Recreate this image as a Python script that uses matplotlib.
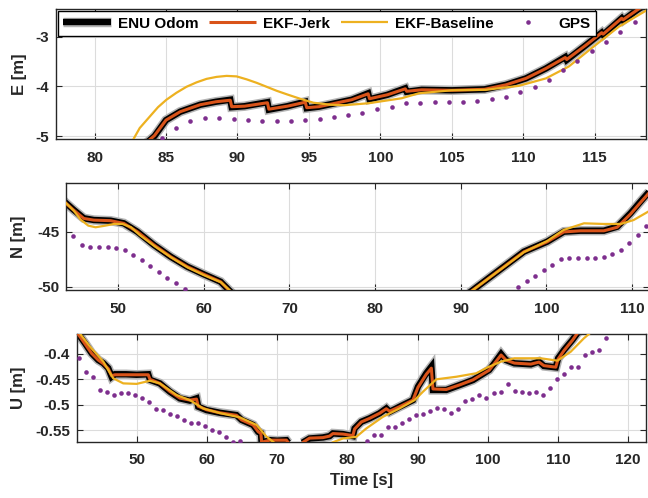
import numpy as np
import matplotlib.pyplot as plt
import matplotlib.patheffects as pe

nan = np.nan

# ---- East ----
e_odom_t = [83.6, 84.2, 85.0, 86.0, 87.4, 88.5, 89.5, 89.6, 90.5, 92.1, 92.2, 93.5, 94.75, 94.85,
            95.7, 98.0, 99.15, 99.25, 100.5, 101.75, 101.85, 102.9, 105.0, 107.3, 108.8, 110.2,
            111.6, 112.95, 113.05, 114.4, 115.5, 115.6, 116.9, 117.0, 118.0, 118.6]
e_odom = [-5.15, -5.0, -4.68, -4.51, -4.37, -4.31, -4.27, -4.42, -4.40, -4.32, -4.47, -4.40, -4.31, -4.44,
          -4.41, -4.27, -4.14, -4.26, -4.17, -4.04, -4.11, -4.07, -4.08, -4.06, -3.97, -3.84,
          -3.64, -3.41, -3.47, -3.17, -2.92, -2.96, -2.63, -2.67, -2.46, -2.35]
e_jerk = [-5.14, -4.99, -4.68, -4.51, -4.37, -4.31, -4.28, -4.41, -4.40, -4.33, -4.46, -4.40, -4.32, -4.43,
          -4.41, -4.27, -4.15, -4.25, -4.17, -4.05, -4.10, -4.07, -4.08, -4.06, -3.97, -3.84,
          -3.64, -3.42, -3.46, -3.17, -2.92, -2.95, -2.63, -2.66, -2.46, -2.35]
e_base_t = [82.69, 83.16, 83.86, 84.44, 85.03, 85.73, 86.43, 87.14, 87.84, 88.54, 89.24, 89.94, 90.65,
            91.35, 92.05, 92.75, 93.45, 94.39, 95.32, 96.49, 97.5, 99.2, 101.5, 102.7, 105.0, 107.4,
            109.7, 111.6, 113.2, 114.8, 116.7, 118.7]
e_base = [-5.08, -4.84, -4.61, -4.42, -4.27, -4.13, -4.01, -3.92, -3.85, -3.81, -3.79, -3.80, -3.86,
          -3.93, -4.01, -4.09, -4.16, -4.25, -4.33, -4.37, -4.38, -4.34, -4.24, -4.14, -4.08, -4.07,
          -3.99, -3.84, -3.60, -3.23, -2.80, -2.46]
e_gps_t = [84.7, 85.7, 86.7, 87.7, 88.7, 89.75, 90.75, 91.75, 92.75, 93.75, 94.75, 95.75, 96.75, 97.75,
           98.75, 99.8, 100.8, 101.8, 102.8, 103.8, 104.8, 105.8, 106.8, 107.8, 108.8, 109.8, 110.8,
           111.8, 112.8, 113.8, 114.8, 115.8, 116.8, 117.8]
e_gps = [-5.03, -4.83, -4.69, -4.64, -4.64, -4.66, -4.68, -4.69, -4.70, -4.70, -4.68, -4.65, -4.61, -4.58,
         -4.53, -4.46, -4.41, -4.34, -4.33, -4.31, -4.31, -4.31, -4.30, -4.26, -4.21, -4.12, -4.02,
         -3.87, -3.68, -3.50, -3.29, -3.10, -2.91, -2.70]

# ---- North ----
n_odom_t = [43.5, 43.84, 44.81, 45.98, 47.15, 49.1, 50.65, 52.22, 54.16, 56.11, 58.06, 60.0, 61.95, 63.3,
            nan, 91.0, 93.49, 97.38, 100.1, 102.05, 104.0, 106.72, 108.28, 109.83, 111.0, 112.2]
n_odom = [-42.1, -42.36, -43.03, -43.78, -43.94, -44.0, -44.24, -45.0, -46.21, -47.27, -48.18, -48.88, -49.55, -50.6,
          nan, -50.55, -49.09, -46.82, -45.91, -45.0, -44.91, -44.91, -44.55, -43.33, -42.27, -41.2]
n_jerk = [-42.1, -42.38, -43.05, -43.8, -43.95, -44.0, -44.25, -45.0, -46.2, -47.27, -48.18, -48.88, -49.55, -50.6,
          nan, -50.55, -49.1, -46.83, -45.92, -45.02, -44.92, -44.92, -44.6, -43.4, -42.35, -41.3]
n_base_t = [43.5, 43.84, 44.81, 45.6, 46.5, 47.35, 48.5, 49.5, 50.5, 51.5, 52.5, 54.3, 56.2, 58.1, 60.0, 62.0,
            63.4, nan, 91.0, 93.5, 97.4, 100.1, 102.0, 104.4, 106.7, 108.7, 110.2, 111.9, 112.2]
n_base = [-42.1, -42.36, -43.1, -43.9, -44.45, -44.6, -44.45, -44.3, -44.3, -44.6, -45.3, -46.35, -47.35, -48.25,
          -48.95, -49.6, -50.6, nan, -50.55, -49.1, -46.85, -45.85, -44.85, -44.24, -44.3, -44.3, -43.94,
          -43.18, -43.0]
n_gps_t = [44.75, 45.75, 46.75, 47.75, 48.75, 49.75, 50.75, 51.75, 52.75, 53.75, 54.75, 55.75, 56.75, 57.75,
           96.7, 97.7, 98.7, 99.7, 100.7, 101.7, 102.7, 103.7, 104.7, 105.7, 106.7, 107.7, 108.7, 109.7,
           110.7, 111.7]
n_gps = [-45.39, -46.21, -46.39, -46.39, -46.39, -46.48, -46.69, -47.09, -47.57, -48.12, -48.64, -49.18,
         -49.70, -50.18, -50.0, -49.45, -49.0, -48.48, -48.0, -47.51, -47.39, -47.39, -47.39, -47.39,
         -47.27, -47.03, -46.66, -46.06, -45.3, -44.45]

# ---- Up ----
u_odom_t = [41.5, 41.69, 42.65, 43.6, 44.54, 45.25, 45.96, 46.44, 46.91, 48.5, 50.0, 51.65, 51.9, 53.3,
            54.74, 56.16, 57.58, 58.53, 58.77, 59.96, 61.85, 64.22, 64.94, 66.59, 67.3, 67.7, 67.8, 68.96,
            70.0, 71.33, 71.6, nan, 73.6, 74.63, 76.52, 77.48, 77.95, 79.37, 80.8, 81.04, 82.0, 83.18,
            84.6, 85.56, 86.03, 87.45, 89.35, 90.06, 91.25, 91.97, 92.2, 94.1, 96.0, 97.9, 100.2, 100.94,
            101.9, 102.6, 103.8, 106.14, 107.3, 108.0, 109.69, 110.02, 110.87, 112.06, 112.77, 113.0]
u_odom = [-0.355, -0.3605, -0.379, -0.3986, -0.412, -0.418, -0.428, -0.445, -0.44, -0.44, -0.441, -0.44,
          -0.451, -0.458, -0.4745, -0.4876, -0.492, -0.4876, -0.504, -0.5107, -0.516, -0.5206, -0.530,
          -0.540, -0.5535, -0.556, -0.575, -0.570, -0.571, -0.570, -0.575, nan, -0.575, -0.5667, -0.5647,
          -0.562, -0.5567, -0.558, -0.562, -0.5469, -0.5337, -0.527, -0.517, -0.5074, -0.514, -0.504,
          -0.491, -0.4646, -0.438, -0.425, -0.471, -0.471, -0.4613, -0.4514, -0.4316, -0.4184, -0.400,
          -0.412, -0.4184, -0.4204, -0.415, -0.4237, -0.4263, -0.4085, -0.392, -0.3723, -0.359, -0.354]
u_jerk = [-0.355, -0.361, -0.380, -0.399, -0.412, -0.419, -0.429, -0.443, -0.441, -0.441, -0.441, -0.441,
          -0.450, -0.458, -0.474, -0.487, -0.491, -0.489, -0.503, -0.510, -0.516, -0.521, -0.530,
          -0.540, -0.553, -0.557, -0.574, -0.570, -0.570, -0.570, -0.575, nan, -0.575, -0.566, -0.565,
          -0.562, -0.557, -0.558, -0.561, -0.548, -0.534, -0.527, -0.517, -0.508, -0.513, -0.504,
          -0.491, -0.466, -0.440, -0.428, -0.469, -0.470, -0.461, -0.451, -0.432, -0.419, -0.402,
          -0.412, -0.418, -0.420, -0.416, -0.423, -0.426, -0.410, -0.393, -0.373, -0.359, -0.354]
u_base_t = [41.5, 43.36, 45.25, 46.67, 48.1, 50.0, 51.9, 53.3, 55.69, 57.58, 59.47, 61.85, 64.7, 67.07,
            68.49, 69.6, nan, 77.8, 79.37, 81.28, 82.71, 85.07, 87.45, 89.59, 90.77, 92.68, 95.53, 98.38,
            100.0, 101.9, 103.78, 107.56, 109.93, 111.82, 113.7, 114.8]
u_base = [-0.352, -0.3856, -0.415, -0.448, -0.458, -0.459, -0.4528, -0.458, -0.481, -0.491, -0.5074,
          -0.5166, -0.525, -0.540, -0.563, -0.575, nan, -0.575, -0.5667, -0.5634, -0.5469, -0.524,
          -0.5074, -0.491, -0.4745, -0.45, -0.4449, -0.438, -0.4263, -0.415, -0.4085, -0.4085, -0.4132,
          -0.3955, -0.369, -0.356]
u_gps_t = [41.8, 42.8, 43.8, 44.8, 45.8, 46.8, 47.8, 48.8, 49.8, 50.8, 51.8, 52.8, 53.8, 54.8, 55.8, 56.8,
           57.8, 58.8, 59.8, 60.75, 61.75, 62.75, 63.75, 64.75, 82.8, 83.75, 84.75, 85.75, 86.75, 87.75,
           88.75, 89.75, 90.75, 91.75, 92.75, 93.75, 94.75, 95.75, 96.75, 97.75, 98.75, 99.75, 100.9,
           101.9, 102.9, 103.9, 104.9, 105.9, 106.9, 107.9, 108.9, 109.9, 110.9, 111.9, 112.85, 113.85,
           114.85, 115.85, 116.8]
u_gps = [-0.4085, -0.435, -0.446, -0.471, -0.4757, -0.4817, -0.477, -0.4765, -0.4804, -0.4876, -0.4955,
         -0.5087, -0.510, -0.519, -0.5225, -0.530, -0.537, -0.537, -0.5417, -0.5496, -0.5535, -0.564,
         -0.5733, -0.5713, -0.572, -0.560, -0.560, -0.5449, -0.5449, -0.5357, -0.529, -0.5206, -0.519,
         -0.512, -0.506, -0.5087, -0.517, -0.5093, -0.4929, -0.4896, -0.4817, -0.4876, -0.4777, -0.4745,
         -0.46, -0.4731, -0.4751, -0.4765, -0.4745, -0.4817, -0.4678, -0.45, -0.4395, -0.4263, -0.4263,
         -0.402, -0.3955, -0.392, -0.3684]

plt.rcParams['font.family'] = ['Liberation Sans', 'DejaVu Sans']
plt.rcParams['font.weight'] = 'bold'
plt.rcParams['axes.labelweight'] = 'bold'

C_JERK = '#D95319'
C_BASE = '#EDB120'
C_GPS = '#7E2F8E'
AX_COL = '#262626'

fig = plt.figure(figsize=(6.48, 4.98), dpi=100)

panels = [
    # rect, data, xlim, ylim, xticks, yticks, yticklabels, ylabel, label x
    ([0.0864, 0.7209, 0.9105, 0.2604], (e_odom_t, e_odom, e_jerk, e_base_t, e_base, e_gps_t, e_gps),
     (77.3, 118.6), (-5.06, -2.45), np.arange(80, 116, 5), [-5, -4, -3], ['-5', '-4', '-3'], 'E [m]', -0.049),
    ([0.1019, 0.4177, 0.8997, 0.2143], (n_odom_t, n_odom, n_jerk, n_base_t, n_base, n_gps_t, n_gps),
     (43.9, 112.0), (-50.3, -40.6), np.arange(50, 111, 10), [-50, -45], ['-50', '-45'], 'N [m]', -0.069),
    ([0.1184, 0.1131, 0.8781, 0.2163], (u_odom_t, u_odom, u_jerk, u_base_t, u_base, u_gps_t, u_gps),
     (41.47, 122.5), (-0.573, -0.3605), np.arange(50, 121, 10), [-0.55, -0.5, -0.45, -0.4],
     ['-0.55', '-0.5', '-0.45', '-0.4'], 'U [m]', -0.089),
]

# soft grey rim around the odometry track
halo = [pe.Stroke(linewidth=6.8, foreground='#b4b4b4'), pe.Normal()]

for rect, data, xlim, ylim, xt, yt, ytl, ylab, lx in panels:
    ot, ov, jv, bt, bv, gt, gv = data
    ax = fig.add_axes(rect)
    h_odom, = ax.plot(ot, ov, color='black', lw=4.6, solid_joinstyle='miter', solid_capstyle='butt',
                      path_effects=halo, label='ENU Odom', zorder=2)
    h_jerk, = ax.plot(ot, jv, color=C_JERK, lw=2.2, solid_capstyle='butt', label='EKF-Jerk', zorder=3)
    h_base, = ax.plot(bt, bv, color=C_BASE, lw=1.6, solid_capstyle='butt', label='EKF-Baseline', zorder=4)
    h_gps, = ax.plot(gt, gv, 'o', color=C_GPS, ms=3.3, mec='none', label='GPS', zorder=5)
    ax.set_xlim(xlim)
    ax.set_ylim(ylim)
    ax.set_xticks(xt)
    ax.set_yticks(yt)
    ax.set_yticklabels(ytl)
    ax.grid(True, color='#dcdcdc', lw=0.8)
    ax.set_axisbelow(True)
    ax.tick_params(direction='in', length=4, width=0.8, top=True, right=True,
                   labelsize=11, colors=AX_COL)
    ax.tick_params(axis='x', pad=8.5)
    ax.tick_params(axis='y', pad=5)
    for s in ax.spines.values():
        s.set_color(AX_COL)
        s.set_linewidth(1.0)
    ax.set_ylabel(ylab, fontsize=12, color=AX_COL)
    ax.yaxis.set_label_coords(lx, 0.5)

ax.set_xlabel('Time [s]', fontsize=12, color=AX_COL, labelpad=4)

leg = fig.legend([h_odom, h_jerk, h_base, h_gps], ['ENU Odom', 'EKF-Jerk', 'EKF-Baseline', 'GPS'],
                 loc='lower left', bbox_to_anchor=(0.0895, 0.9277, 0.830, 0.048), mode='expand',
                 ncol=4, fancybox=False, edgecolor='black', framealpha=1, borderaxespad=0,
                 borderpad=0.35, handlelength=3.1, handletextpad=0.45, fontsize=11)
leg.get_frame().set_linewidth(1.0)

plt.savefig('out.png', dpi=100)
plt.close()
